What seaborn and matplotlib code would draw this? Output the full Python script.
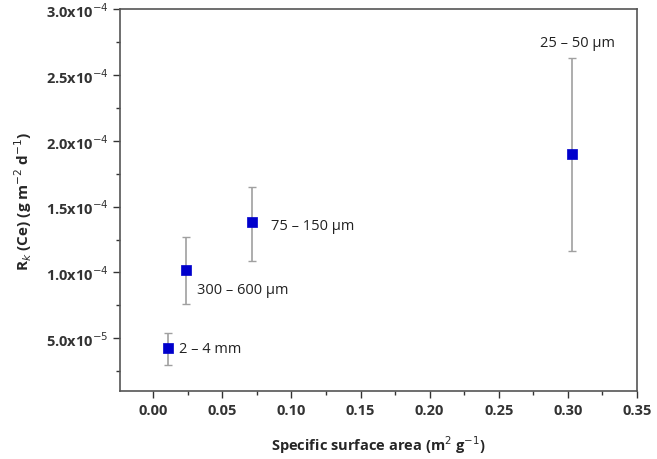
import numpy as np
import pandas as pd
import matplotlib
matplotlib.use("Agg")
import matplotlib.pyplot as plt
import seaborn as sns
from matplotlib.ticker import MultipleLocator, FuncFormatter

# data
sizes = ["2 \u2013 4 mm", "300 \u2013 600 \u00b5m", "75 \u2013 150 \u00b5m", "25 \u2013 50 \u00b5m"]
ssa = [0.0105, 0.0235, 0.0715, 0.303]
rk = [4.25e-5, 1.02e-4, 1.38e-4, 1.90e-4]
err_low = [3.0e-5, 7.6e-5, 1.09e-4, 1.16e-4]
err_high = [5.4e-5, 1.27e-4, 1.65e-4, 2.63e-4]

df = pd.DataFrame({"SSA": ssa, "Rk": rk, "Size": sizes})

sns.set_style("ticks")
plt.rcParams["font.family"] = ["Open Sans", "DejaVu Sans"]

fig = plt.figure(figsize=(6.57, 4.60), dpi=100)
ax = fig.add_axes([0.1826, 0.148, 0.787, 0.830])

yerr = [np.array(rk) - np.array(err_low), np.array(err_high) - np.array(rk)]
ax.errorbar(ssa, rk, yerr=yerr, fmt="none", ecolor="#a0a0a0", elinewidth=1.2,
            capsize=3, capthick=1, zorder=1)
sns.scatterplot(data=df, x="SSA", y="Rk", marker="s", s=42, color="#0000cc",
                edgecolor="#0000cc", linewidth=0.5, ax=ax, zorder=2)

# point labels
offsets = [(8, 0, "left", "center"), (8, -14, "left", "center"),
           (14, -2, "left", "center"), (4, 80, "center", "center")]
for (dx, dy, ha, va), x, y, lab in zip(offsets, ssa, rk, sizes):
    ax.annotate(lab, (x, y), xytext=(dx, dy), textcoords="offset points",
                ha=ha, va=va, fontsize=10.5, color="#222222")

ax.set_xlim(-0.024, 0.35)
ax.set_ylim(1.0e-5, 3.0e-4)
ax.xaxis.set_major_locator(MultipleLocator(0.05))
ax.xaxis.set_minor_locator(MultipleLocator(0.025))
ax.yaxis.set_major_locator(MultipleLocator(5e-5))
ax.yaxis.set_minor_locator(MultipleLocator(2.5e-5))


def sci(v, pos):
    if v <= 0:
        return ""
    e = int(np.floor(np.log10(v) + 1e-9))
    m = v / 10 ** e
    return r"%.1fx10$^{%d}$" % (m, e)


ax.yaxis.set_major_formatter(FuncFormatter(sci))
ax.xaxis.set_major_formatter(FuncFormatter(lambda v, p: "%.2f" % v))

ax.tick_params(which="both", direction="out", top=False, right=False, colors="#333333")
ax.tick_params(which="major", length=5, width=1, labelsize=10.5)
ax.tick_params(which="minor", length=3, width=1)
for lab in ax.get_xticklabels() + ax.get_yticklabels():
    lab.set_fontweight("bold")

for sp in ax.spines.values():
    sp.set_visible(True)
    sp.set_color("#555555")
    sp.set_linewidth(1.2)

ax.set_xlabel(r"Specific surface area (m$^{2}$ g$^{-1}$)", fontsize=10.5,
              fontweight="bold", labelpad=12)
ax.set_ylabel(r"R$_{k}$ (Ce) (g m$^{-2}$ d$^{-1}$)", fontsize=11,
              fontweight="bold", labelpad=8)

fig.savefig("out.png", dpi=100)
